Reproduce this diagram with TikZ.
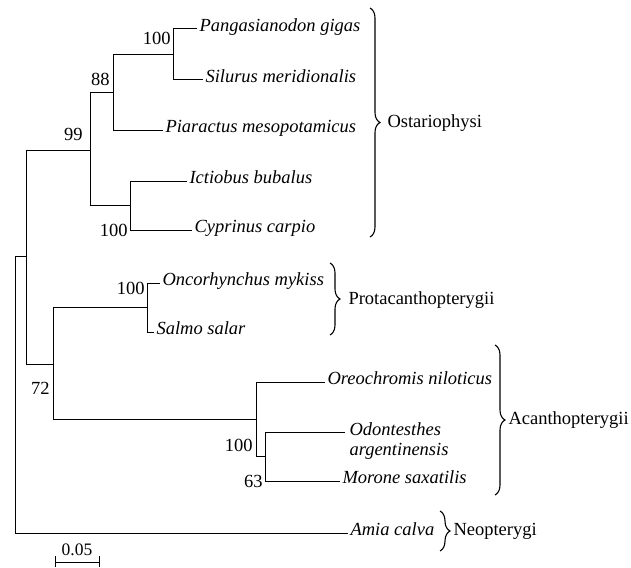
\documentclass[tikz,border=0pt]{standalone}
\usepackage{fontspec}
\setmainfont{Liberation Serif}
\usetikzlibrary{decorations.pathreplacing}
\newcommand\treefont{\fontsize{18.5}{20}\selectfont}
\tikzset{
  leaf/.style={anchor=west, inner sep=2pt, text height=0.68em, text depth=0.2em, font=\treefont\itshape},
  boot/.style={anchor=east, inner sep=0pt},
  clade/.style={anchor=west, inner sep=0pt},
  bracket/.style={decorate, decoration={brace, amplitude=10pt}, line width=1.1pt},
}
\begin{document}
\begin{tikzpicture}[x=1pt, y=-1pt, font=\treefont, line width=1pt]
  \useasboundingbox (0,0) rectangle (631,567);
  \foreach \n/\x/\y in {R/15/394.5, A/26/256, n99/90/150, n88/113/93, n100a/173/54.5, ncyp/130/205.5,
      B/53/364, nsal/147/307.5, nac/256/419.5, n63/265/456.5, odoend/345/432}
    \coordinate (\n) at (\x,\y);
  \foreach \n/\x/\y/\t in {pan/197/29/Pangasianodon gigas, sil/203/80/Silurus meridionalis,
      pia/163/130/Piaractus mesopotamicus, ict/187/181/Ictiobus bubalus, cyp/192/230/Cyprinus carpio,
      onc/160/283/Oncorhynchus mykiss, sal/154/332/Salmo salar, ore/325/382/Oreochromis niloticus,
      mor/340/481/Morone saxatilis, ami/348/533/Amia calva}
    \node[leaf] (\n) at (\x,\y) {\t};
  \node[leaf, align=left, text height=, text depth=] (odo) at (347,441) {Odontesthes\\argentinensis};
  \foreach \a/\b in {R/A, R/ami, A/n99, A/B, n99/n88, n99/ncyp, n88/n100a, n88/pia, n100a/pan, n100a/sil,
      ncyp/ict, ncyp/cyp, B/nsal, B/nac, nsal/onc, nsal/sal, nac/ore, nac/n63, n63/odoend, n63/mor}
    \draw (\a) |- (\b);
  \foreach \n/\x/\y/\v in {b100a/171/38/100, b88/110/79/88, b99/83/134/99, b100c/128/230/100,
      b100s/145/288/100, b72/50/388/72, b100o/253/445/100, b63/263/481/63}
    \node[boot] (\n) at (\x,\y) {\v};
  \draw[bracket] (370,8) -- (370,237);
  \draw[bracket] (330,263) -- (330,335);
  \draw[bracket] (495,345) -- (495,495);
  \draw[bracket] (440,511) -- (440,551);
  \node[clade] (ost) at (387,123) {Ostariophysi};
  \node[clade] (pro) at (348,300) {Protacanthopterygii};
  \node[clade] (aca) at (508,420) {Acanthopterygii};
  \node[clade] (neo) at (453,531) {Neopterygi};
  \coordinate (sbl) at (55,562);
  \coordinate (sbr) at (99,562);
  \draw (sbl) -- (sbr);
  \draw ([yshift=6pt]sbl) -- ([yshift=-5pt]sbl);
  \draw ([yshift=6pt]sbr) -- ([yshift=-5pt]sbr);
  \node[font=\fontsize{17.5}{20}\selectfont] (sblab) at (77,550) {0.05};
\end{tikzpicture}
\end{document}
